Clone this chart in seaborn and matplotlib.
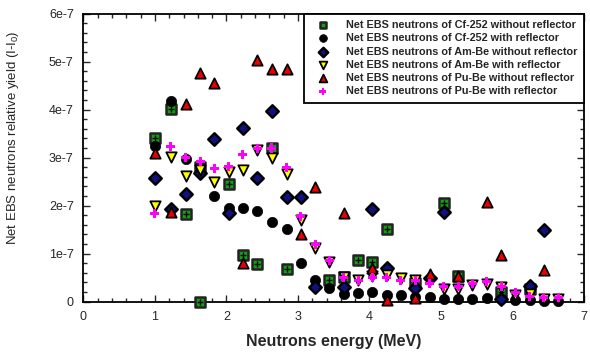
import numpy as np
import matplotlib
matplotlib.use('Agg')
import matplotlib.pyplot as plt
import seaborn as sns
from matplotlib.ticker import MultipleLocator, FuncFormatter

# Neutron energies (MeV) and net EBS yields (in units of 1e-7)
cf_bare_e = [1.0, 1.22, 1.43, 1.63, 1.63, 2.03, 2.23, 2.43, 2.63, 2.84, 3.44, 3.64, 3.84, 4.04,
             4.24, 4.64, 5.04, 5.24, 5.84, 6.24]
cf_bare_y = [3.40, 4.02, 1.82, 2.80, 0.0, 2.46, 0.97, 0.78, 3.20, 0.67, 0.45, 0.52, 0.87, 0.83,
             1.52, 0.38, 2.06, 0.54, 0.20, 0.27]

cf_refl_e = [1.0, 1.22, 1.43, 1.63, 1.83, 2.03, 2.23, 2.43, 2.63, 2.84, 3.04, 3.24, 3.44, 3.64,
             3.84, 4.04, 4.24, 4.44, 4.64, 4.84, 5.04, 5.24, 5.44, 5.64, 5.84, 6.04, 6.24, 6.44, 6.64]
cf_refl_y = [3.25, 4.18, 2.98, 2.82, 2.20, 1.94, 1.96, 1.89, 1.66, 1.52, 0.80, 0.46, 0.28, 0.15,
             0.17, 0.19, 0.14, 0.14, 0.10, 0.10, 0.05, 0.05, 0.05, 0.07, 0.05, 0.03, 0.03, 0.01, 0.01]

amb_bare_e = [1.0, 1.22, 1.43, 1.63, 1.83, 2.03, 2.23, 2.43, 2.63, 2.84, 3.04, 3.24, 3.64, 4.04,
              4.24, 4.64, 4.84, 5.04, 5.84, 6.24, 6.44]
amb_bare_y = [2.57, 1.92, 2.24, 2.67, 3.39, 1.85, 3.62, 2.58, 3.97, 2.18, 2.17, 0.30, 0.30, 1.92,
              0.71, 0.28, 0.50, 1.87, 0.06, 0.33, 1.49]

amb_refl_e = [1.0, 1.22, 1.43, 1.63, 1.83, 2.03, 2.23, 2.43, 2.63, 2.84, 3.04, 3.24, 3.44, 3.64,
              3.84, 4.04, 4.24, 4.44, 4.64, 5.04, 5.24, 5.44, 5.64, 5.84, 6.04, 6.24, 6.44, 6.64]
amb_refl_y = [1.99, 3.02, 2.62, 2.74, 2.50, 2.70, 2.75, 3.16, 3.00, 2.66, 1.71, 1.11, 0.83, 0.52,
              0.46, 0.53, 0.55, 0.50, 0.45, 0.27, 0.26, 0.34, 0.37, 0.30, 0.14, 0.15, 0.05, 0.05]

pube_bare_e = [1.0, 1.22, 1.43, 1.63, 1.83, 2.23, 2.43, 2.63, 2.84, 3.04, 3.24, 3.64, 4.04, 4.24,
               4.64, 4.84, 5.24, 5.64, 5.84, 6.44]
pube_bare_y = [3.10, 1.87, 4.11, 4.77, 4.56, 0.80, 5.03, 4.84, 4.84, 1.40, 2.38, 1.84, 0.71, 0.04,
               0.07, 0.58, 0.54, 2.07, 0.97, 0.66]

pube_refl_e = [1.0, 1.22, 1.43, 1.63, 1.83, 2.03, 2.23, 2.43, 2.63, 2.84, 3.04, 3.24, 3.44, 3.64,
               3.84, 4.04, 4.24, 4.44, 4.64, 4.84, 5.04, 5.24, 5.44, 5.64, 5.84, 6.04, 6.24, 6.44, 6.64]
pube_refl_y = [1.84, 3.24, 3.00, 2.91, 2.77, 2.81, 3.07, 3.19, 3.20, 2.79, 1.77, 1.18, 0.85, 0.50,
               0.44, 0.50, 0.50, 0.44, 0.45, 0.37, 0.31, 0.32, 0.37, 0.41, 0.32, 0.18, 0.10, 0.09, 0.09]

labels = ['Net EBS neutrons of Cf-252 without reflector',
          'Net EBS neutrons of Cf-252 with reflector',
          'Net EBS neutrons of Am-Be without reflector',
          'Net EBS neutrons of Am-Be with reflector',
          'Net EBS neutrons of Pu-Be without reflector',
          'Net EBS neutrons of Pu-Be with reflector']

sns.set_style('ticks')
plt.rcParams['font.family'] = ['Liberation Sans', 'DejaVu Sans']
plt.rcParams['mathtext.default'] = 'regular'

fig = plt.figure(figsize=(5.9, 3.54), dpi=100)
ax = fig.add_axes([0.1415, 0.148, 0.8483, 0.8136])

scale = 1e-7
common = dict(ax=ax, clip_on=False, zorder=3)

# Cf-252 without reflector: green square with black cross
sns.scatterplot(x=cf_bare_e, y=np.array(cf_bare_y) * scale, marker='s', s=42,
                color='#12a012', edgecolor='#222222', linewidth=1.8, label=labels[0], **common)
ax.scatter(cf_bare_e, np.array(cf_bare_y) * scale, marker='+', s=22, color='black',
           linewidth=1.0, clip_on=False, zorder=3)
sns.scatterplot(x=cf_refl_e, y=np.array(cf_refl_y) * scale, marker='o', s=55,
                color='black', edgecolor='black', linewidth=0.5, label=labels[1], **common)
sns.scatterplot(x=amb_bare_e, y=np.array(amb_bare_y) * scale, marker='D', s=40,
                color='#101080', edgecolor='black', linewidth=1.8, label=labels[2], **common)
sns.scatterplot(x=amb_refl_e, y=np.array(amb_refl_y) * scale, marker='v', s=55,
                color='#ffff00', edgecolor='black', linewidth=1.3, label=labels[3], **common)
sns.scatterplot(x=pube_bare_e, y=np.array(pube_bare_y) * scale, marker='^', s=55,
                color='#ee0000', edgecolor='black', linewidth=1.3, label=labels[4], **common)
sns.scatterplot(x=pube_refl_e, y=np.array(pube_refl_y) * scale, marker='P', s=42,
                color='#ff00ff', edgecolor='none', linewidth=0, label=labels[5], **common)

ax.set_xlim(0, 7)
ax.set_ylim(0, 6e-7)
ax.xaxis.set_major_locator(MultipleLocator(1))
ax.xaxis.set_minor_locator(MultipleLocator(0.2))
ax.yaxis.set_major_locator(MultipleLocator(1e-7))
ax.yaxis.set_minor_locator(MultipleLocator(0.2e-7))
ax.yaxis.set_major_formatter(FuncFormatter(lambda v, p: '0' if abs(v) < 1e-12 else f'{v / 1e-7:.0f}e-7'))

ax.tick_params(which='both', direction='in', top=True, right=True, width=1.0, labelsize=9)
ax.tick_params(which='major', length=5, pad=7)
ax.tick_params(which='minor', length=3)
for sp in ax.spines.values():
    sp.set_linewidth(1.3)
    sp.set_color('black')

ax.set_xlabel('Neutrons energy (MeV)', fontsize=11.5, fontweight='bold', labelpad=8)
ax.set_ylabel('Net EBS neutrons relative yield (I-I$_0$)', fontsize=9.5)
ax.yaxis.set_label_coords(-0.125, 0.568)

leg = ax.legend(loc='upper right', bbox_to_anchor=(1, 1), borderaxespad=0,
                prop={'size': 7.8, 'weight': 'bold'},
                frameon=True, fancybox=False, framealpha=1, edgecolor='black',
                handlelength=2.3, handletextpad=1.0, labelspacing=0.3,
                markerscale=0.75, borderpad=0.6)
leg.get_frame().set_linewidth(1.3)
leg.set_zorder(5)

fig.savefig('out.png', dpi=100)
